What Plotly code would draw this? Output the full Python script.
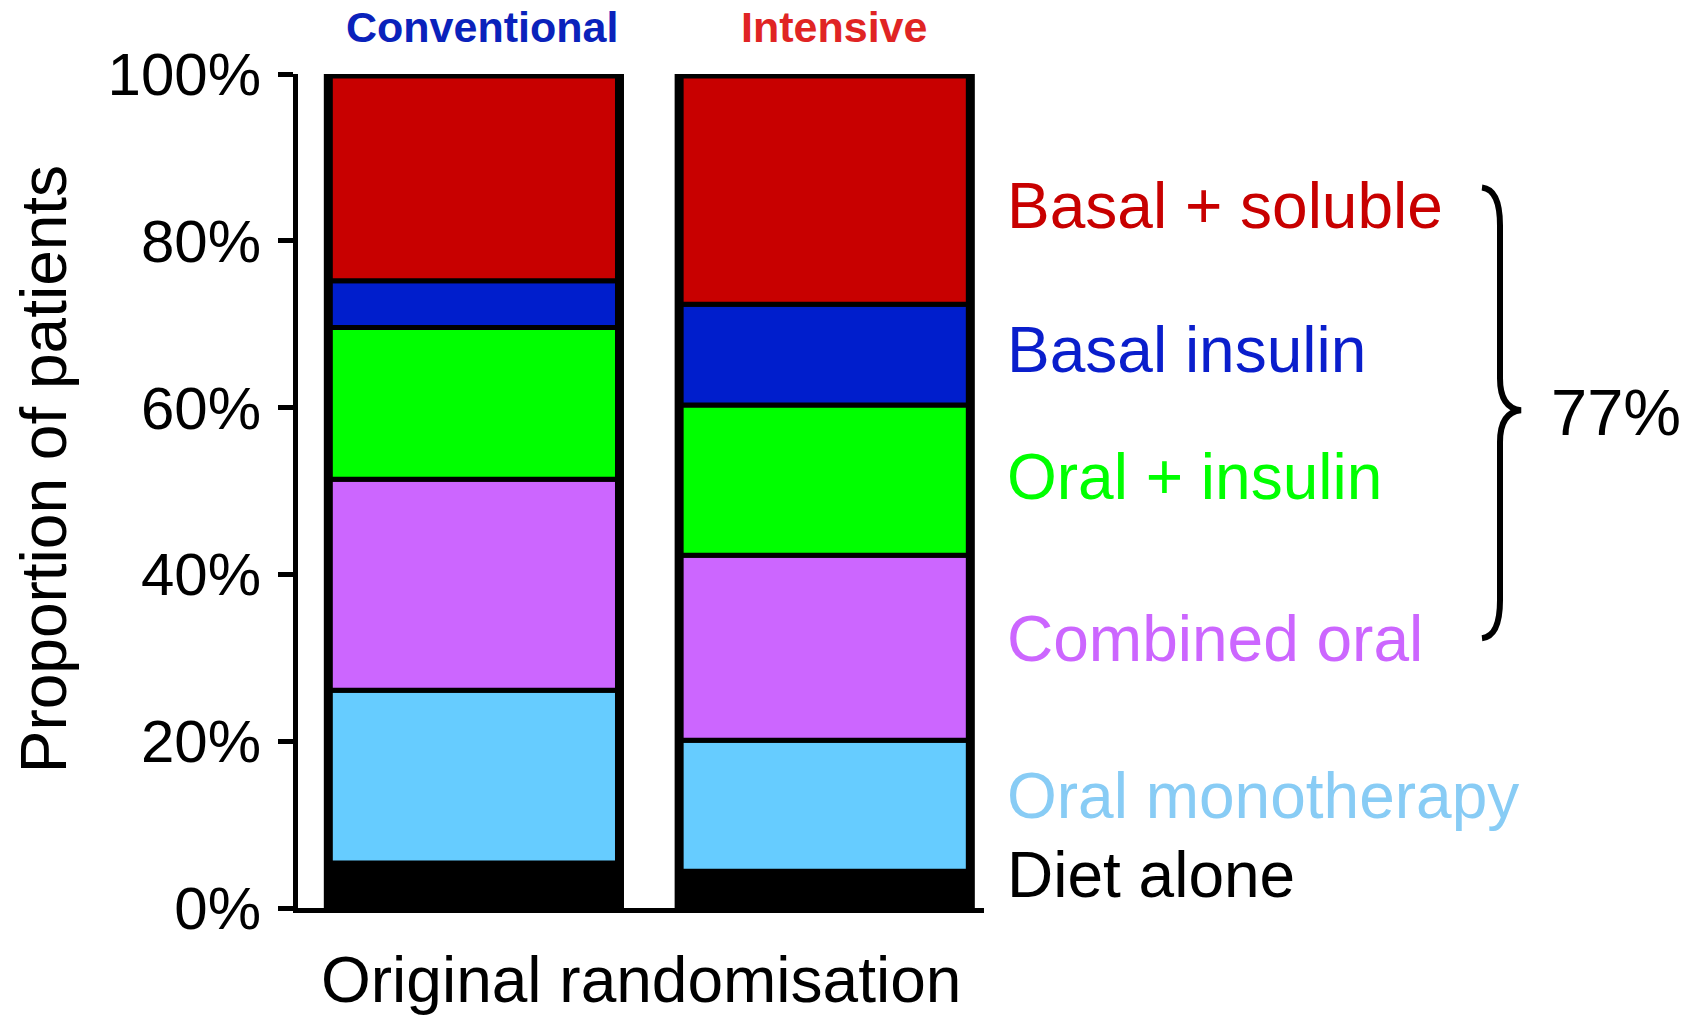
import plotly.graph_objects as go

# ---------------- data ----------------
categories = ["Conventional", "Intensive"]
series_names = ["Diet alone", "Oral monotherapy", "Combined oral",
                "Oral + insulin", "Basal insulin", "Basal + soluble"]
diet_alone = [5.4, 4.4]
oral_monotherapy = [20.7, 15.7]
combined_oral = [25.3, 22.2]
oral_insulin = [18.2, 18.0]
basal_insulin = [5.6, 12.1]
basal_soluble = [24.8, 27.6]
y_tick_values = [0, 20, 40, 60, 80, 100]
y_tick_labels = ["0%", "20%", "40%", "60%", "80%", "100%"]
bracket_label = "77%"

series_values = [diet_alone, oral_monotherapy, combined_oral,
                 oral_insulin, basal_insulin, basal_soluble]
fill_colors = ["#000000", "#66CCFF", "#CC66FF", "#00FF00", "#001ECC", "#C80000"]
label_colors = ["#000000", "#88CCF5", "#CC66FF", "#00FF00", "#0A1ECC", "#C80000"]
header_colors = ["#0A22BB", "#E02424"]

# ---------------- layout geometry (pixels) ----------------
W, H = 1692, 1018
PL, PR, PT, PB = 298, 984, 73.5, 908
FONT = "Liberation Sans, Arial, Helvetica, sans-serif"
BAR_W = 0.83


def px_x(px):
    return (px - PL) / (PR - PL)


def px_y(py):
    return (PB - py) / (PB - PT)


fig = go.Figure()

# stacked segments (overlay with explicit bases)
bases = [0.0] * len(categories)
for name, vals, col in zip(series_names, series_values, fill_colors):
    fig.add_trace(go.Bar(
        x=categories, y=vals, base=list(bases), name=name,
        width=BAR_W, marker=dict(color=col, line=dict(color="black", width=5)),
        showlegend=False, hoverinfo="skip"))
    bases = [b + v for b, v in zip(bases, vals)]

# outer thick outline of each bar
fig.add_trace(go.Bar(
    x=categories, y=bases, base=[0] * len(categories), width=BAR_W,
    marker=dict(color="rgba(0,0,0,0)", line=dict(color="black", width=9)),
    showlegend=False, hoverinfo="skip"))

annotations = []
# column headers
for cat, col, xs in zip(categories, header_colors, [8, 9]):
    annotations.append(dict(
        x=cat, xref="x", y=px_y(26), yref="paper", text="<b>%s</b>" % cat,
        showarrow=False, xshift=xs, xanchor="center", yanchor="middle",
        font=dict(family=FONT, size=43, color=col)))

# right-hand series labels
label_centers = [875, 796, 639, 477, 350, 206]
for name, col, cy in zip(series_names, label_colors, label_centers):
    annotations.append(dict(
        x=px_x(1005), xref="paper", y=px_y(cy), yref="paper", text=name,
        showarrow=False, xanchor="left", yanchor="middle",
        font=dict(family=FONT, size=64, color=col)))

# bracket value
annotations.append(dict(
    x=px_x(1549), xref="paper", y=px_y(412), yref="paper", text=bracket_label,
    showarrow=False, xanchor="left", yanchor="middle",
    font=dict(family=FONT, size=65, color="black")))

# axis titles as annotations for exact placement
annotations.append(dict(
    x=px_x(44), xref="paper", y=px_y(469), yref="paper",
    text="Proportion of patients", textangle=-90, showarrow=False,
    xanchor="center", yanchor="middle",
    font=dict(family=FONT, size=64, color="black")))
annotations.append(dict(
    x=px_x(641), xref="paper", y=px_y(980), yref="paper",
    text="Original randomisation", showarrow=False,
    xanchor="center", yanchor="middle",
    font=dict(family=FONT, size=64, color="black")))

# curly brace
top, mid, bot = 187, 410, 638
xe, xs, xt = 1482, 1500, 1521


def P(x, y):
    return "%.5f,%.5f" % (px_x(x), px_y(y))


brace = ("M " + P(xe, top) + " Q " + P(xs, top + 2) + " " + P(xs, top + 38) +
         " L " + P(xs, mid - 32) + " Q " + P(xs, mid - 2) + " " + P(xt, mid) +
         " Q " + P(xs, mid + 2) + " " + P(xs, mid + 32) +
         " L " + P(xs, bot - 38) + " Q " + P(xs, bot - 2) + " " + P(xe, bot))

fig.update_layout(
    width=W, height=H,
    margin=dict(l=PL, r=W - PR, t=PT, b=H - PB, pad=0),
    paper_bgcolor="white", plot_bgcolor="white",
    barmode="overlay", showlegend=False,
    font=dict(family=FONT, color="black"),
    annotations=annotations,
    shapes=[dict(type="path", path=brace, xref="paper", yref="paper",
                 line=dict(color="black", width=6))],
    xaxis=dict(range=[-0.5014, 1.454], showticklabels=False, ticks="",
               showline=True, linecolor="black", linewidth=5,
               showgrid=False, zeroline=False, fixedrange=True),
    yaxis=dict(range=[0, 100], tickmode="array", tickvals=y_tick_values,
               ticktext=y_tick_labels,
               ticks="outside", ticklen=15, tickwidth=5, tickcolor="black",
               ticklabelstandoff=5,
               tickfont=dict(family=FONT, size=60, color="black"),
               showline=True, linecolor="black", linewidth=5,
               showgrid=False, zeroline=False, fixedrange=True),
)

fig.write_html("out.html",
               config={"displayModeBar": False, "staticPlot": True},
               post_script="document.body.style.margin='0';"
                           "document.body.style.padding='0';"
                           "document.body.style.overflow='hidden';")
